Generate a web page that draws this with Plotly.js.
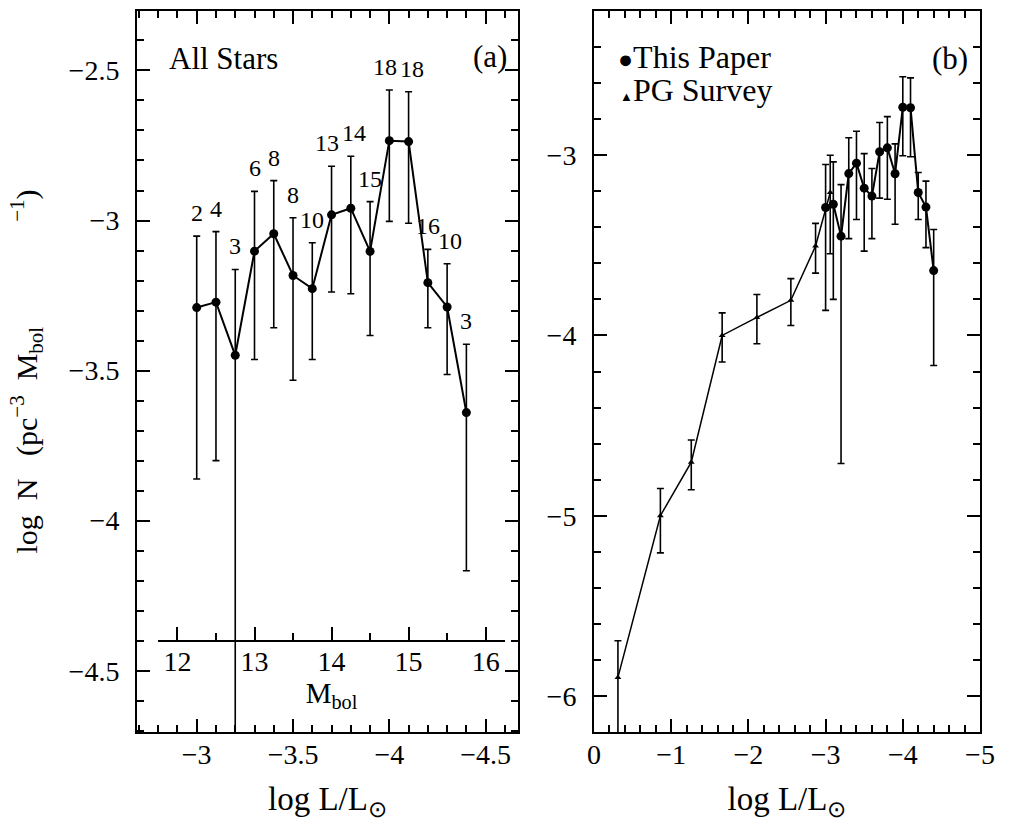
<!DOCTYPE html>
<html>
<head>
<meta charset="utf-8">
<script src="https://cdn.plot.ly/plotly-3.0.1.min.js"></script>
<style>html,body{margin:0;padding:0;background:#fff;}</style>
</head>
<body>
<div id="chart" style="width:1013px;height:830px;"></div>
<script>
// White dwarf luminosity function: all stars of this sample (a) and comparison with the PG survey (b)

// This sample: bins in log L/Lsun, log N (pc^-3 Mbol^-1), error bar extents and star counts
const logL    = [-3.0, -3.1, -3.2, -3.3, -3.4, -3.5, -3.6, -3.7, -3.8, -3.9, -4.0, -4.1, -4.2, -4.3, -4.4];
const logN    = [-3.290, -3.272, -3.449, -3.102, -3.044, -3.183, -3.227, -2.981, -2.959, -3.103, -2.734, -2.737, -3.207, -3.288, -3.640];
const errUp   = [0.238, 0.235, 0.286, 0.199, 0.177, 0.192, 0.153, 0.162, 0.173, 0.166, 0.169, 0.166, 0.111, 0.144, 0.228];
const errDown = [0.571, 0.528, 1.261, 0.361, 0.313, 0.349, 0.236, 0.257, 0.285, 0.280, 0.269, 0.272, 0.150, 0.225, 0.527];
const counts  = [2, 4, 3, 6, 8, 8, 10, 13, 14, 15, 18, 18, 16, 10, 3];

// PG survey
const pgLogL    = [-0.31, -0.86, -1.26, -1.66, -2.11, -2.55, -2.87, -3.06];
const pgLogN    = [-5.897, -5.000, -4.703, -4.000, -3.900, -3.805, -3.504, -3.207];
const pgErrUp   = [0.203, 0.151, 0.123, 0.125, 0.127, 0.120, 0.126, 0.207];
const pgErrDown = [0.400, 0.206, 0.153, 0.147, 0.146, 0.140, 0.150, 0.340];

// Bolometric magnitude from log L/Lsun
const mbol = l => 4.75 - 2.5 * l;

// Page geometry helpers (pixel -> paper fraction)
const W = 1013, H = 830;
const M = {l: 137, r: 33, t: 9, b: 98};
const PW = W - M.l - M.r, PH = H - M.t - M.b;
const fx = px => (px - M.l) / PW;
const fy = py => (H - M.b - py) / PH;

const FAMILY = '"Liberation Serif", "Times New Roman", serif';
const font = (size) => ({family: FAMILY, size: size, color: '#000'});

const rangeA = [-2.69, -4.668];
const rangeYA = [-4.704, -2.302];
const domA = [0, fx(518)];

const frame = {
  showline: true, linewidth: 2, linecolor: '#000', mirror: 'ticks',
  ticks: 'inside', ticklen: 13, tickwidth: 1.5, tickcolor: '#000',
  showgrid: false, zeroline: false, tickfont: font(28), tick0: 0
};
const minor = (d) => ({dtick: d, ticks: 'inside', ticklen: 7, tickwidth: 1.5, tickcolor: '#000', showgrid: false});

// Mbol scale sharing the panel (a) luminosity axis
const x3Dom = [fx(158), fx(505)];
const lAt = f => rangeA[0] + (f - domA[0]) / (domA[1] - domA[0]) * (rangeA[1] - rangeA[0]);
const x3Range = [mbol(lAt(x3Dom[0])), mbol(lAt(x3Dom[1]))];
const yFrac = v => (v - rangeYA[0]) / (rangeYA[1] - rangeYA[0]);

const errStyle = (up, down) => ({type: 'data', symmetric: false, array: up, arrayminus: down,
  color: '#000', thickness: 1.6, width: 3.5});

const traces = [
  {
    name: 'All Stars', x: logL, y: logN, xaxis: 'x', yaxis: 'y',
    mode: 'lines+markers', line: {color: '#000', width: 2},
    marker: {symbol: 'circle', size: 9, color: '#000'},
    error_y: errStyle(errUp, errDown), hoverinfo: 'x+y'
  },
  {
    name: 'Mbol', x: logL.map(mbol), y: logN, xaxis: 'x3', yaxis: 'y',
    mode: 'markers', marker: {size: 1, opacity: 0}, hoverinfo: 'skip'
  },
  {
    name: 'PG Survey', x: pgLogL, y: pgLogN, xaxis: 'x2', yaxis: 'y2',
    mode: 'lines+markers', line: {color: '#000', width: 1.5},
    marker: {symbol: 'triangle-up', size: 6, color: '#000'},
    error_y: errStyle(pgErrUp, pgErrDown), hoverinfo: 'x+y'
  },
  {
    name: 'This Paper', x: logL, y: logN, xaxis: 'x2', yaxis: 'y2',
    mode: 'lines+markers', line: {color: '#000', width: 2},
    marker: {symbol: 'circle', size: 9, color: '#000'},
    error_y: errStyle(errUp, errDown), hoverinfo: 'x+y'
  }
];

// Neighbouring count labels that sit side by side are eased apart
const labelNudge = {7: -5, 8: 3, 10: -4, 11: 3, 13: 3};
const annotations = counts.map((c, i) => ({
  xref: 'x', yref: 'y', x: logL[i], y: logN[i] + errUp[i], text: String(c),
  showarrow: false, xanchor: 'center', yanchor: 'middle', yshift: 23,
  xshift: labelNudge[i] || 0, font: font(24)
}));
annotations.push(
  {xref: 'paper', yref: 'paper', x: fx(223), y: fy(57), text: 'All Stars', showarrow: false,
   xanchor: 'center', yanchor: 'middle', font: font(31)},
  {xref: 'paper', yref: 'paper', x: fx(490), y: fy(55), text: '(a)', showarrow: false,
   xanchor: 'center', yanchor: 'middle', font: font(31)},
  {xref: 'paper', yref: 'paper', x: fx(950), y: fy(57), text: '(b)', showarrow: false,
   xanchor: 'center', yanchor: 'middle', font: font(31)},
  {xref: 'paper', yref: 'paper', x: fx(616), y: fy(55),
   text: '<span style="font-size:25px">●</span>This Paper', showarrow: false,
   xanchor: 'left', yanchor: 'middle', font: font(32)},
  {xref: 'paper', yref: 'paper', x: fx(618), y: fy(88),
   text: '<span style="font-size:13px">▲</span>PG Survey', showarrow: false,
   xanchor: 'left', yanchor: 'middle', font: font(32)}
);

const NB = n => '\u00a0'.repeat(n);
const yTitle = 'log' + NB(2) + 'N' + NB(3) + '(pc<sup>−3</sup>' + NB(2) + 'M<sub>bol</sub>' + NB(14) + '<sup>−1</sup>)';

const layout = {
  width: W, height: H, margin: M, showlegend: false,
  paper_bgcolor: '#fff', plot_bgcolor: 'rgba(0,0,0,0)',
  font: font(28),
  xaxis: Object.assign({}, frame, {
    domain: domA, range: rangeA, dtick: 0.5, minor: minor(0.1), anchor: 'y',
    ticklabelstandoff: -4, automargin: true,
    title: {text: 'log L/L<sub>⊙</sub>', font: font(33), standoff: 18}
  }),
  yaxis: Object.assign({}, frame, {
    domain: [0, 1], range: rangeYA, dtick: 0.5, minor: minor(0.1), anchor: 'x',
    ticklabelstandoff: 10, automargin: true,
    title: {text: yTitle, font: font(30), standoff: 22}
  }),
  xaxis2: Object.assign({}, frame, {
    domain: [fx(594), 1], range: [0, -5], dtick: 1, minor: minor(0.2), anchor: 'y2',
    ticklabelstandoff: -4, automargin: true,
    title: {text: 'log L/L<sub>⊙</sub>', font: font(33), standoff: 18}
  }),
  yaxis2: Object.assign({}, frame, {
    domain: [0, 1], range: [-6.2, -2.2], dtick: 1, minor: minor(0.2), anchor: 'x2',
    ticklabelstandoff: 10
  }),
  xaxis3: {
    domain: x3Dom, range: x3Range, anchor: 'free', position: yFrac(-4.4), side: 'bottom',
    showline: true, linewidth: 2, linecolor: '#000', mirror: false,
    ticks: 'inside', ticklen: 13, tickwidth: 1.5, tickcolor: '#000',
    dtick: 1, tick0: 0, minor: minor(0.5),
    showgrid: false, zeroline: false, tickfont: font(28), ticklabelstandoff: -4,
    title: {text: 'M<sub>bol</sub>', font: font(29), standoff: 0}
  },
  annotations: annotations
};

Plotly.newPlot('chart', traces, layout, {displayModeBar: false});
</script>
</body>
</html>
